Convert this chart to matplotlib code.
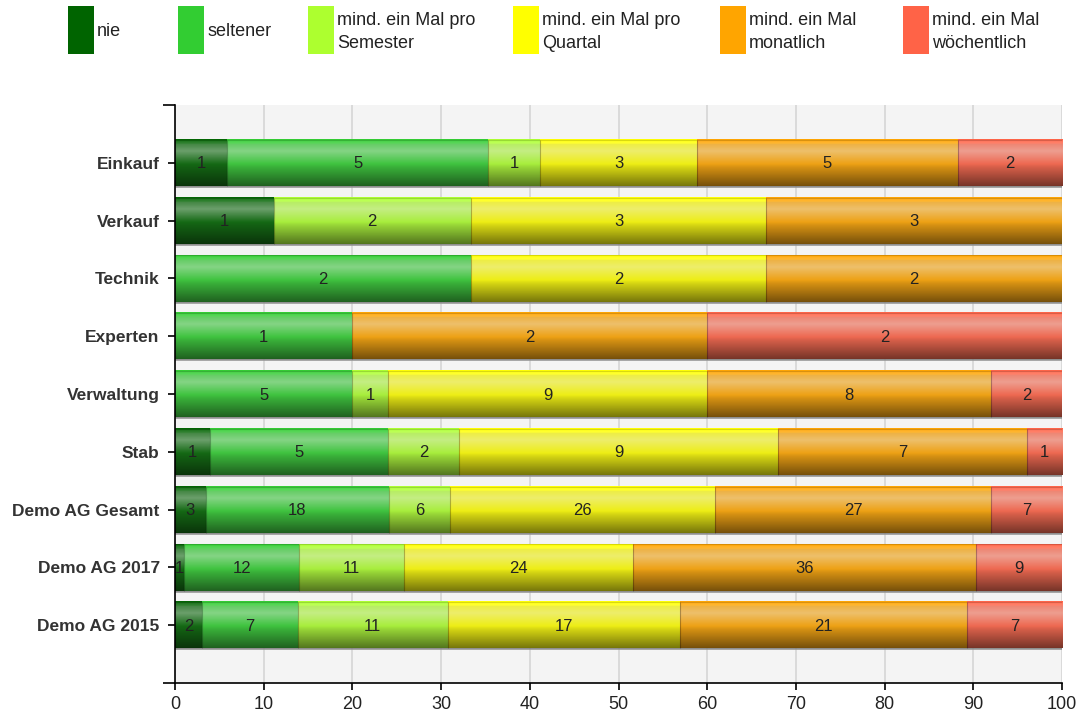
import matplotlib.pyplot as plt
import numpy as np
from matplotlib.patches import Rectangle

plt.rcParams['font.family'] = ['Liberation Sans', 'DejaVu Sans']

categories = ['Einkauf', 'Verkauf', 'Technik', 'Experten', 'Verwaltung',
              'Stab', 'Demo AG Gesamt', 'Demo AG 2017', 'Demo AG 2015']
series = ['nie', 'seltener', 'mind. ein Mal pro\nSemester',
          'mind. ein Mal pro\nQuartal', 'mind. ein Mal\nmonatlich',
          'mind. ein Mal\nwöchentlich']
colors = ['#006400', '#32cd32', '#adff2f', '#ffff00', '#ffa500', '#ff6347']

nie = [1, 1, 0, 0, 0, 1, 3, 1, 2]
seltener = [5, 0, 2, 1, 5, 5, 18, 12, 7]
semester = [1, 2, 0, 0, 1, 2, 6, 11, 11]
quartal = [3, 3, 2, 0, 9, 9, 26, 24, 17]
monatlich = [5, 3, 2, 2, 8, 7, 27, 36, 21]
woechentlich = [2, 0, 0, 2, 2, 1, 7, 9, 7]

counts = np.array([nie, seltener, semester, quartal, monatlich, woechentlich], dtype=float)
totals = counts.sum(axis=0)
pct = counts / totals * 100


def gradient(color, n=80):
    base = np.array(plt.matplotlib.colors.to_rgb(color))
    white = np.ones(3)
    gray = np.full(3, 0.55)
    t = np.linspace(0, 1, n)
    # >0 mixes with white, <0 darkens
    k = np.interp(t, [0, 0.05, 0.25, 0.6, 1.0], [0.0, 0.15, 0.4, -0.1, -0.5])
    out = np.empty((n, 1, 3))
    for i, kk in enumerate(k):
        if kk >= 0:
            c = base + (white - base) * kk
        else:
            c = base * (1 + kk)
        # slight desaturation in the body of the bar
        c = c * 0.85 + (gray * (1 + min(kk, 0))) * 0.15 if t[i] > 0.1 else c
        out[i, 0] = c
    return np.clip(out, 0, 1)


fig = plt.figure(figsize=(10.78, 7.12), dpi=100)
ax = fig.add_axes([0.1623, 0.0407, 0.8229, 0.8118])
ax.set_facecolor('#f4f4f4')

h = 0.8
y = np.arange(len(categories))
left = np.zeros(len(categories))
for s in range(len(series)):
    for i in range(len(categories)):
        w = pct[s, i]
        if w <= 0:
            continue
        ax.imshow(gradient(colors[s]), extent=[left[i], left[i] + w, y[i] + h / 2, y[i] - h / 2],
                  aspect='auto', interpolation='bilinear', zorder=2)
        ax.add_patch(Rectangle((left[i], y[i] - h / 2), w, h, fill=False,
                               edgecolor=(0, 0, 0, 0.15), lw=0.8, zorder=3))
        ax.text(left[i] + w / 2, y[i] + 0.02, f'{int(counts[s, i])}', ha='center', va='center',
                fontsize=12, color='#222222', zorder=4)
    left += pct[s]

# subtle shadow under bars
for i in range(len(categories)):
    ax.plot([0, 100], [y[i] + h / 2 + 0.02] * 2, color='#9a9a9a', lw=1.2, zorder=1.5)

ax.set_xlim(0, 100)
ax.set_ylim(9, -1)
ax.set_xticks(np.arange(0, 101, 10))
ax.set_yticks(y)
ax.set_yticklabels(categories, fontsize=12.5, fontweight='bold', color='#333333')
ax.set_yticks([-1, 9], minor=True)
ax.tick_params(axis='y', which='minor', length=9, width=1.2, color='black')
ax.tick_params(axis='y', which='major', length=5, width=1.2, pad=6)
ax.tick_params(axis='x', length=5, width=1.2, labelsize=13, pad=4, labelcolor='#222222')
ax.xaxis.grid(True, color='#d8d8d8', lw=1.3, zorder=0)
ax.set_axisbelow(True)
for side in ['top', 'right']:
    ax.spines[side].set_visible(False)
for side in ['left', 'bottom']:
    ax.spines[side].set_linewidth(1.2)

# legend
sw_x = [68, 178, 308, 513, 720, 903]
W, H = 1078, 712
for i, lab in enumerate(series):
    fig.patches.append(Rectangle((sw_x[i] / W, 1 - 54 / H), 26 / W, 48 / H, transform=fig.transFigure,
                                 facecolor=colors[i], edgecolor='none'))
    fig.text((sw_x[i] + 29) / W, 1 - 32 / H, lab, ha='left', va='center', fontsize=13,
             color='#222222', linespacing=1.45)

fig.savefig('out.png', dpi=100)
